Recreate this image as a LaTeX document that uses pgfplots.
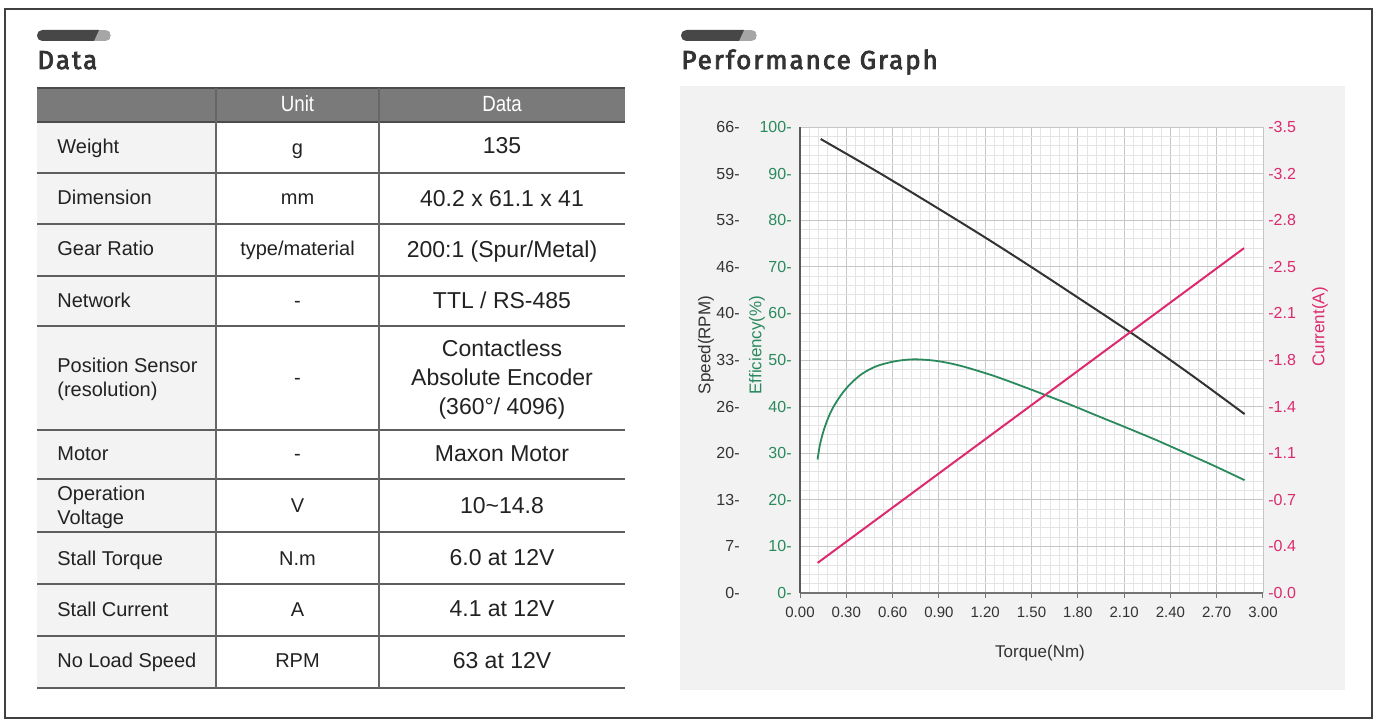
\documentclass[border=0pt]{standalone}
\usepackage{pgfplots}
\pgfplotsset{compat=1.18}
\usepackage{fontspec}
\setmainfont{Liberation Sans}
\newfontfamily\titlefont[LetterSpace=7.5, FakeBold=3]{Fira Sans}
\usepackage{graphicx}
\definecolor{effgreen}{HTML}{2A8A5E}
\definecolor{curpink}{HTML}{DD2A6E}
\definecolor{spdblack}{HTML}{333333}
\definecolor{panel}{HTML}{F2F2F2}
\definecolor{gridmaj}{HTML}{C6C6C6}
\definecolor{gridmin}{HTML}{E4E4E4}
\definecolor{hdr}{HTML}{7A7A7A}
\definecolor{rowline}{HTML}{5E5E5E}
\definecolor{colone}{HTML}{F3F3F3}
\definecolor{txt}{HTML}{222222}
\newcommand{\fa}{\fontsize{10}{12}\selectfont}
\newcommand{\fb}{\fontsize{11.5}{14}\selectfont}
\newcommand{\ft}{\fontsize{8}{9}\selectfont}
\begin{document}
\begin{tikzpicture}
\begin{scope}[x=0.5pt,y=-0.5pt]
\useasboundingbox (0,0) rectangle (1378,722);
\fill[white] (0,0) rectangle (1378,722);
\draw[line width=1.2pt, draw=black!75] (5,9) rectangle (1372,718);
% pills
\begin{scope}
\clip[rounded corners=2.75pt] (37,30) rectangle (111,41);
\fill[black!35] (37,30) rectangle (111,41);
\fill[black!72] (37,30) -- (99,30) -- (94,41) -- (37,41) -- cycle;
\end{scope}
\begin{scope}
\clip[rounded corners=2.75pt] (681,30) rectangle (757,41);
\fill[black!35] (681,30) rectangle (757,41);
\fill[black!72] (681,30) -- (744,30) -- (739,41) -- (681,41) -- cycle;
\end{scope}
\node[anchor=base west, inner sep=0pt, font=\titlefont\fontsize{13}{15}\selectfont, text=black!80] at (37,69) {Data};
\node[anchor=base west, inner sep=0pt, font=\titlefont\fontsize{13}{15}\selectfont, text=black!80] at (681,69) {Performance Graph};
% table
\fill[colone] (37,122) rectangle (216,688);
\fill[hdr] (37,88) rectangle (625,122);
\draw[black!70, line width=1.3pt] (37,88) -- (625,88);
\draw[black!70, line width=1.3pt] (37,122) -- (625,122);
\foreach \y in {173,224,276,326,430,479,532,584,636,688} \draw[rowline,line width=0.9pt] (37,\y) -- (625,\y);
\draw[black!60, line width=0.6pt] (216,88) -- (216,688);
\draw[black!60, line width=0.6pt] (379,88) -- (379,688);
\node[anchor=base, text=white, inner sep=0pt] at (297.5,112) {\scalebox{0.85}[1]{\fontsize{11}{13}\selectfont Unit}};
\node[anchor=base, text=white, inner sep=0pt] at (502,112) {\scalebox{0.85}[1]{\fontsize{11}{13}\selectfont Data}};
\begin{scope}[every node/.style={inner sep=0pt, text=txt}]
% first column
\node[anchor=base west, font=\fa] at (57,154) {Weight};
\node[anchor=base west, font=\fa] at (57,205) {Dimension};
\node[anchor=base west, font=\fa] at (57,256) {Gear Ratio};
\node[anchor=base west, font=\fa] at (57,307) {Network};
\node[anchor=base west, font=\fa] at (57,372) {Position Sensor};
\node[anchor=base west, font=\fa] at (57,396) {(resolution)};
\node[anchor=base west, font=\fa] at (57,460) {Motor};
\node[anchor=base west, font=\fa] at (57,500) {Operation};
\node[anchor=base west, font=\fa] at (57,524) {Voltage};
\node[anchor=base west, font=\fa] at (57,565) {Stall Torque};
\node[anchor=base west, font=\fa] at (57,616) {Stall Current};
\node[anchor=base west, font=\fa] at (57,667) {No Load Speed};
% unit column
\node[anchor=base, font=\fa] at (297.5,155) {g};
\node[anchor=base, font=\fa] at (297.5,205) {mm};
\node[anchor=base, font=\fa] at (297.5,256) {type/material};
\node[anchor=base, font=\fa] at (297.5,307) {-};
\node[anchor=base, font=\fa] at (297.5,384) {-};
\node[anchor=base, font=\fa] at (297.5,460) {-};
\node[anchor=base, font=\fa] at (297.5,512) {V};
\node[anchor=base, font=\fa] at (297.5,565) {N.m};
\node[anchor=base, font=\fa] at (297.5,616) {A};
\node[anchor=base, font=\fa] at (297.5,667) {RPM};
% data column
\node[anchor=base, font=\fb] at (502,154) {135};
\node[anchor=base, font=\fb] at (502,206) {40.2 x 61.1 x 41};
\node[anchor=base, font=\fb] at (502,257) {200:1 (Spur/Metal)};
\node[anchor=base, font=\fb] at (502,308) {TTL / RS-485};
\node[anchor=base, font=\fb] at (502,357) {Contactless};
\node[anchor=base, font=\fb] at (502,385) {Absolute Encoder};
\node[anchor=base, font=\fb] at (502,414) {(360°/ 4096)};
\node[anchor=base, font=\fb] at (502,461) {Maxon Motor};
\node[anchor=base, font=\fb] at (502,513) {10\textasciitilde 14.8};
\node[anchor=base, font=\fb] at (502,565) {6.0 at 12V};
\node[anchor=base, font=\fb] at (502,616) {4.1 at 12V};
\node[anchor=base, font=\fb] at (502,668) {63 at 12V};
\end{scope}
% graph panel
\fill[panel] (680,86) rectangle (1345,690);
\node[rotate=90, font=\fontsize{8.5}{10}\selectfont, text=black!80] at (706,345) {Speed(RPM)};
\node[rotate=90, font=\fontsize{8.5}{10}\selectfont, text=effgreen] at (757,345) {Efficiency(\%)};
\node[rotate=90, font=\fontsize{8.5}{10}\selectfont, text=curpink] at (1320,327) {Current(A)};
\node[font=\fontsize{8.5}{10}\selectfont, text=black!80] at (1040,653) {Torque(Nm)};
\end{scope}

% efficiency axis (with grid)
\begin{axis}[
  at={(400pt,-296.5pt)}, anchor=south west,
  scale only axis, width=231.5pt, height=233pt,
  xmin=0, xmax=3, ymin=0, ymax=100,
  axis background/.style={fill=white},
  axis x line*=bottom, axis y line*=left,
  x axis line style={-, draw=black!55, line width=1pt},
  y axis line style={-, draw=black!65, line width=1pt},
  xtick={0,0.3,0.6,0.9,1.2,1.5,1.8,2.1,2.4,2.7,3},
  xticklabels={0.00,0.30,0.60,0.90,1.20,1.50,1.80,2.10,2.40,2.70,3.00},
  ytick={0,10,20,30,40,50,60,70,80,90,100},
  yticklabels={0-,10-,20-,30-,40-,50-,60-,70-,80-,90-,100-},
  minor x tick num=4, minor y tick num=4,
  grid=both,
  major grid style={draw=gridmaj, line width=0.45pt},
  minor grid style={draw=gridmin, line width=0.35pt},
  tick align=outside, major tick length=2.5pt, minor tick length=0pt,
  xtick style={draw=black!55, line width=0.5pt},
  ytick style={draw=none},
  xticklabel style={font=\fontsize{7.5}{9}\selectfont, text=black!80, yshift=-1pt},
  yticklabel style={font=\ft, text=effgreen, anchor=east, inner sep=0pt, xshift=-1.5pt},
]
\addplot[effgreen, line width=0.9pt, smooth, tension=0.6] coordinates {
(0.114,28.65) (0.128,31.6) (0.151,34.6) (0.183,37.6) (0.216,39.9) (0.260,42.2) (0.302,44.0) (0.356,45.8) (0.410,47.2)
(0.490,48.6) (0.583,49.5) (0.660,49.95) (0.734,50.14) (0.810,50.05) (0.885,49.8) (0.970,49.3) (1.058,48.6) (1.160,47.6) (1.273,46.4)
(1.430,44.5) (1.597,42.4) (1.760,40.3) (1.921,38.1) (2.040,36.5) (2.158,34.9) (2.310,32.8) (2.460,30.6) (2.670,27.5) (2.881,24.21)};
\end{axis}

% speed axis
\begin{axis}[
  at={(400pt,-296.5pt)}, anchor=south west,
  scale only axis, width=231.5pt, height=233pt,
  xmin=0, xmax=3, ymin=0, ymax=66,
  hide x axis, axis y line*=left, y axis line style={draw=none},
  ytick={0,6.6,13.2,19.8,26.4,33,39.6,46.2,52.8,59.4,66},
  yticklabels={0-,7-,13-,20-,26-,33-,40-,46-,53-,59-,66-},
  ytick style={draw=none},
  yticklabel style={font=\ft, text=black!80, anchor=east, inner sep=0pt, xshift=-30pt},
]
\addplot[spdblack, line width=1pt, smooth] coordinates {
(0.134,64.30) (0.518,59.45) (0.885,54.60) (1.200,50.35) (1.494,46.24) (1.800,41.85) (2.169,36.50) (2.525,31.05) (2.881,25.34)};
\end{axis}

% current axis
\begin{axis}[
  at={(400pt,-296.5pt)}, anchor=south west,
  scale only axis, width=231.5pt, height=233pt,
  xmin=0, xmax=3, ymin=0, ymax=3.5,
  hide x axis, axis y line*=right, y axis line style={draw=none},
  ytick={0,0.35,0.7,1.05,1.4,1.75,2.1,2.45,2.8,3.15,3.5},
  yticklabels={-0.0,-0.4,-0.7,-1.1,-1.4,-1.8,-2.1,-2.5,-2.8,-3.2,-3.5},
  ytick style={draw=none},
  yticklabel style={font=\ft, text=curpink, anchor=west, inner sep=0pt, xshift=2.5pt},
]
\addplot[curpink, line width=1pt] coordinates {
(0.114,0.226) (1.494,1.406) (2.877,2.590)};
\end{axis}
\end{tikzpicture}
\end{document}
